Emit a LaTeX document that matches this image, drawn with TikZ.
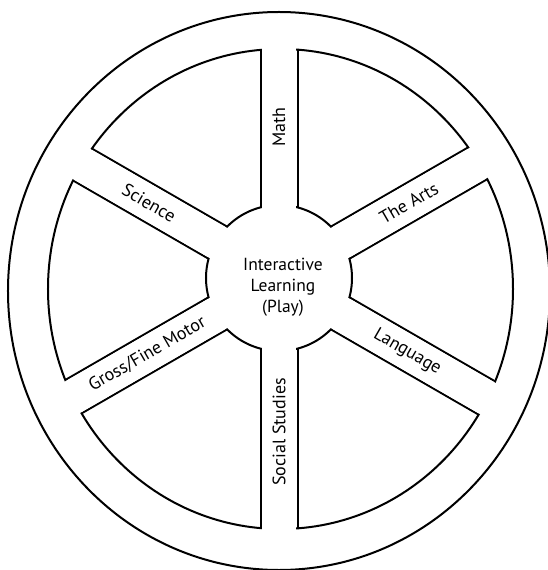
\documentclass[tikz,border=0pt]{standalone}
\usepackage{fontspec}
\setmainfont{PT Sans}
\tikzset{
  wheelline/.style={line width=2pt, line join=round},
  spokelabel/.style={font=\fontsize{18}{20}\selectfont, inner sep=0pt},
  hublabel/.style={font=\fontsize{17.5}{21}\selectfont, align=center, inner sep=0pt}
}
\begin{document}
\begin{tikzpicture}[x=1pt,y=1pt]
\useasboundingbox[fill=white] (-279,-292) rectangle (269,278);
% outer rim
\draw[wheelline] (0,-13) ellipse [x radius=271, y radius=279];
% spoke edges, clipped to the inner rim
\begin{scope}
  \clip (1.5,-11) ellipse [x radius=232.5, y radius=240];
  \foreach \a in {30,90,...,330}
    \draw[wheelline, rotate=\a] (0,18.5) -- (300,18.5) (0,-18.5) -- (300,-18.5);
\end{scope}
% hub
\fill[white] (0,0) circle (73);
\draw[wheelline] (1.5,-11) ellipse [x radius=232.5, y radius=240];
\draw[wheelline] (0,0) circle (73);
% open the spokes
\begin{scope}
  \clip (1.5,-11) ellipse [x radius=236, y radius=244];
  \foreach \a in {30,90,...,330}
    \fill[white, rotate=\a] (0,-17.4) rectangle (300,17.4);
\end{scope}
% labels
\node[hublabel] (hub) at (4,-9) {Interactive\\Learning\\(Play)};
\node[spokelabel, rotate=90] (math) at (90:151) {Math};
\node[spokelabel, rotate=30] (arts) at (30:150) {The Arts};
\node[spokelabel, rotate=-30] (lang) at (-30:148) {Language};
\node[spokelabel, rotate=90] (social) at (-90:154) {Social Studies};
\node[spokelabel, rotate=30] (motor) at (210:152) {Gross/Fine Motor};
\node[spokelabel, rotate=-30] (sci) at (150:150) {Science};
\end{tikzpicture}
\end{document}
